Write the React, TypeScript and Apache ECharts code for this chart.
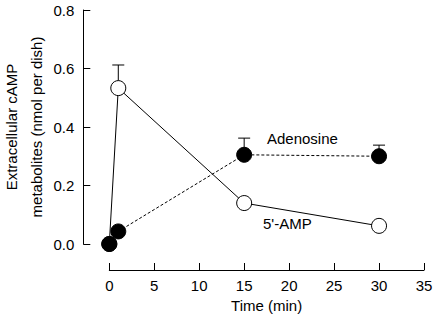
import React, { useEffect, useRef } from "react";
import * as echarts from "echarts";

const xTicks = [0, 5, 10, 15, 20, 25, 30, 35];
const yTicks = [0, 0.2, 0.4, 0.6, 0.8];

const times = [0, 1, 15, 30];
const ampValues = [0, 0.533, 0.14, 0.062];
const ampErrTop = [null, 0.612, null, null];
const adoValues = [0, 0.043, 0.305, 0.3];
const adoErrTop = [null, null, 0.362, 0.338];

const seriesNames = ["5'-AMP", "Adenosine"];
const yNameLines = ["Extracellular cAMP", "metabolites (nmol per dish)"];
const xName = "Time (min)";

const FONT = "'Liberation Sans', Arial, Helvetica, sans-serif";

function errData(vals: number[], tops: (number | null)[]) {
  const out: number[][] = [];
  times.forEach((t, i) => {
    const top = tops[i];
    if (top != null) out.push([t, vals[i], top]);
  });
  return out;
}

function errorRender(params: any, api: any) {
  const x = api.value(0);
  const y = api.value(1);
  const top = api.value(2);
  const p0 = api.coord([x, y]);
  const p1 = api.coord([x, top]);
  const half = 6;
  return {
    type: "group",
    children: [
      {
        type: "line",
        shape: { x1: p0[0], y1: p0[1], x2: p1[0], y2: p1[1] },
        style: { stroke: "#000", lineWidth: 1 },
      },
      {
        type: "line",
        shape: { x1: p1[0] - half, y1: p1[1], x2: p1[0] + half, y2: p1[1] },
        style: { stroke: "#000", lineWidth: 1 },
      },
    ],
  };
}

export default function App() {
  const ref = useRef<HTMLDivElement>(null);
  useEffect(() => {
    if (!ref.current) return;
    const chart = echarts.init(ref.current, null, { renderer: "svg" });
    const textStyle = { fontFamily: FONT, fontSize: 15, color: "#000" };
    chart.setOption({
      animation: false,
      backgroundColor: "#fff",
      textStyle,
      grid: {
        left: 109.3,
        right: 10,
        top: 10,
        bottom: 76,
        containLabel: false,
        outerBoundsMode: "none",
      },
      xAxis: {
        type: "value",
        min: xTicks[0],
        max: xTicks[xTicks.length - 1],
        interval: 5,
        offset: 26,
        name: xName,
        nameLocation: "middle",
        nameGap: 24,
        nameTextStyle: { ...textStyle, verticalAlign: "top" },
        axisLine: { show: true, onZero: false, lineStyle: { color: "#000", width: 1 } },
        axisTick: { show: true, inside: true, length: 7, lineStyle: { color: "#000" } },
        axisLabel: { ...textStyle, margin: 8 },
        splitLine: { show: false },
      },
      yAxis: {
        type: "value",
        min: yTicks[0],
        max: yTicks[yTicks.length - 1],
        interval: 0.2,
        offset: 26,
        axisLine: { show: true, onZero: false, lineStyle: { color: "#000", width: 1 } },
        axisTick: { show: true, inside: true, length: 7, lineStyle: { color: "#000" } },
        axisLabel: { ...textStyle, margin: 9, formatter: (v: number) => v.toFixed(1) },
        splitLine: { show: false },
      },
      series: [
        {
          type: "custom",
          name: "ampErr",
          renderItem: errorRender,
          data: errData(ampValues, ampErrTop),
          z: 1,
          silent: true,
        },
        {
          type: "custom",
          name: "adoErr",
          renderItem: errorRender,
          data: errData(adoValues, adoErrTop),
          z: 1,
          silent: true,
        },
        {
          type: "line",
          name: seriesNames[0],
          data: times.map((t, i) => [t, ampValues[i]]),
          symbol: "circle",
          symbolSize: 15,
          showAllSymbol: true,
          lineStyle: { color: "#000", width: 1, type: "solid" },
          itemStyle: { color: "#fff", borderColor: "#000", borderWidth: 1 },
          z: 2,
        },
        {
          type: "line",
          name: seriesNames[1],
          data: times.map((t, i) => [t, adoValues[i]]),
          symbol: "circle",
          symbolSize: 15,
          showAllSymbol: true,
          lineStyle: { color: "#000", width: 1, type: [3, 2] },
          itemStyle: { color: "#000", borderColor: "#000", borderWidth: 1 },
          z: 3,
        },
      ],
      graphic: [
        {
          type: "text",
          x: 11,
          y: 127,
          rotation: Math.PI / 2,
          style: {
            text: yNameLines[0],
            font: `15px ${FONT}`,
            fill: "#000",
            textAlign: "center",
            textVerticalAlign: "middle",
          },
        },
        {
          type: "text",
          x: 36,
          y: 127,
          rotation: Math.PI / 2,
          style: {
            text: yNameLines[1],
            font: `15px ${FONT}`,
            fill: "#000",
            textAlign: "center",
            textVerticalAlign: "middle",
          },
        },
        {
          type: "text",
          left: 267,
          top: 131,
          style: { text: seriesNames[1], font: `15px ${FONT}`, fill: "#000" },
        },
        {
          type: "text",
          left: 263,
          top: 216,
          style: { text: seriesNames[0], font: `15px ${FONT}`, fill: "#000" },
        },
      ],
    });
    return () => chart.dispose();
  }, []);
  return (
    <div
      ref={ref}
      style={{ position: "absolute", left: 0, top: 0, width: 434, height: 320 }}
    />
  );
}
